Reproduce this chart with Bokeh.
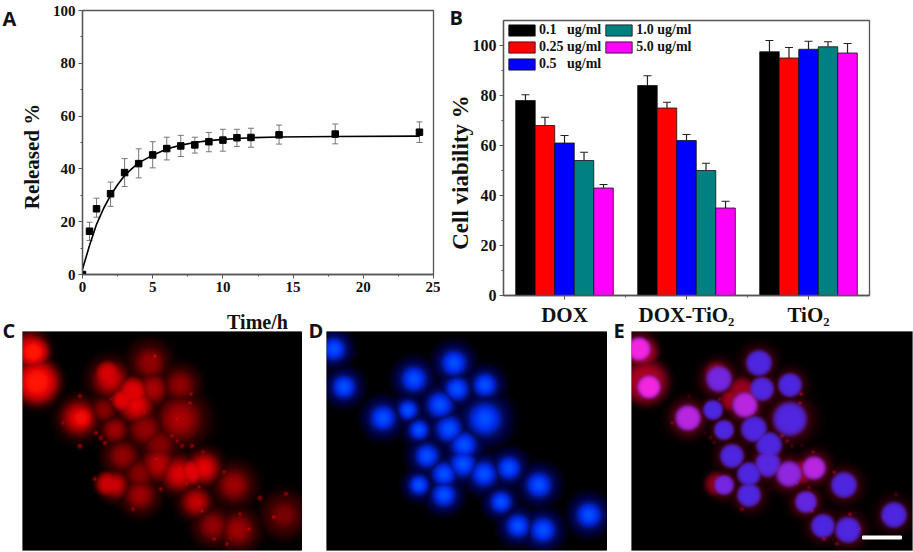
import numpy as np
from bokeh.core.properties import value
from bokeh.embed import file_html
from bokeh.layouts import column, row
from bokeh.models import ColumnDataSource, FixedTicker, Legend, LegendItem, Range1d, TeeHead, Whisker
from bokeh.plotting import figure
from bokeh.resources import INLINE

# panel A: release curve
time_h = [0, 0.5, 1, 2, 3, 4, 5, 6, 7, 8, 9, 10, 11, 12, 14, 18, 24]
released = [0, 16.4, 24.9, 30.6, 38.6, 42, 45.3, 47.7, 48.7, 49.1, 50.3, 50.9, 51.8, 51.9, 52.9, 53.2, 53.9]
released_low = [0, 12.9, 21.7, 25.8, 33.3, 36.6, 40.4, 43.4, 44.7, 46, 46.5, 46.7, 48.5, 48.2, 49.4, 49.5, 50]
released_high = [0, 19.8, 28.9, 35, 43.9, 47.6, 50.3, 52, 52.7, 52, 53.8, 55, 55, 55.4, 56.6, 57, 57.8]
fit_t = [0, 0.25, 0.5, 1, 1.5, 2, 2.5, 3, 3.5, 4, 5, 6, 7, 8, 9, 10, 12, 14, 18, 24]
fit_y = [2, 6.5, 11, 19, 25, 30, 34, 37.5, 40, 42.3, 45.2, 47.5, 49, 50, 50.7, 51.2, 51.8, 52.1, 52.3, 52.4]

# panel B: cell viability
groups = ["DOX", "DOX-TiO₂", "TiO₂"]
doses = ["0.1\u00a0\u00a0\u00a0ug/ml", "0.25 ug/ml", "0.5\u00a0\u00a0\u00a0ug/ml", "1.0 ug/ml", "5.0 ug/ml"]
dose_colors = ["#000000", "#ff0000", "#0000ff", "#008080", "#ff00ff"]
viability = [[78, 84, 97.5], [68, 75, 95], [61, 62, 98.5], [54, 50, 99.5], [43, 35, 97]]
viability_top = [[80.3, 87.9, 102], [71.3, 77.3, 99.2], [64, 64.4, 101.7], [57.3, 52.9, 101.5], [44.4, 37.7, 100.8]]

# panels C-E: cells seen in the micrographs, in panel pixels
cell_x = [7, 17, 87, 127, 130, 158, 113, 81, 56, 92, 122, 158, 137, 100, 136, 117, 157, 182, 92, 117, 174, 212, 191, 216, 262]
cell_y = [17, 55, 47, 31, 57, 53, 73, 78, 86, 98, 97, 87, 113, 124, 132, 142, 142, 136, 153, 163, 170, 153, 194, 198, 183]
cell_r = [12, 12, 13, 13, 12, 12, 13, 10, 13, 10, 13, 17, 13, 12, 13, 12, 13, 12, 10, 12, 11, 13, 12, 13, 13]
cell_red = [1.0, 1.0, 0.85, 0.6, 0.7, 0.6, 0.95, 0.55, 0.95, 0.65, 0.6, 0.7, 0.55, 0.6, 0.75, 0.55, 0.9, 0.95, 0.85, 0.65, 0.8, 0.65, 0.6, 0.65, 0.5]
glow_x = [10, 14, 110, 85, 58, 170, 100, 85]
glow_y = [20, 50, 60, 42, 86, 140, 68, 152]
glow_r = [16, 22, 15, 13, 13, 13, 12, 12]
glow_a = [1.0, 1.0, 0.88, 0.85, 0.95, 0.88, 0.88, 0.8]
spot_x = [88, 85, 132, 169, 168, 121, 57, 40, 57, 72, 83, 138, 177, 181, 180, 202, 218, 252, 264, 238, 110, 133, 158, 155, 170, 78, 73, 82, 178, 165, 227, 192, 205, 150, 155, 160]
spot_y = [67, 36, 24, 62, 71, 81, 64, 91, 114, 147, 149, 157, 155, 120, 179, 140, 182, 185, 162, 166, 177, 127, 136, 87, 114, 106, 101, 111, 171, 151, 197, 207, 212, 104, 109, 114]

# panel letters, in page pixels
letters = ["A", "B", "C", "D", "E"]
letter_x = [2, 449, 2, 308, 613]
letter_y = [18, 17, 330, 330, 330]
# axis titles sit off centre, in page pixels
y_titles = ["Released %", "Cell viability %"]
y_title_x = [31, 460]
y_title_y = [156, 172]
y_title_size = ["21px", "23px"]

W, H = 281, 219
SERIF = "Liberation Serif"
AXIS = "#555555"


def to_image(r, g, b):
    img = np.zeros((H, W), dtype=np.uint32)
    view = img.view(np.uint8).reshape((H, W, 4))
    view[..., 0] = np.clip(r, 0, 1) * 255
    view[..., 1] = np.clip(g, 0, 1) * 255
    view[..., 2] = np.clip(b, 0, 1) * 255
    view[..., 3] = 255
    return img[::-1]


def fields():
    yy, xx = np.mgrid[0:H, 0:W]
    cyto = np.zeros((H, W))
    haze = np.zeros((H, W))
    halo = np.zeros((H, W))
    core = np.zeros((H, W))
    center = np.zeros((H, W))
    nucleus = np.zeros((H, W))
    pink = np.zeros((H, W))
    for x, y, r, a in zip(cell_x, cell_y, cell_r, cell_red):
        d = np.hypot(xx - x, yy - y)
        cyto = np.maximum(cyto, a * 0.95 * np.exp(-(d / (1.3 * r)) ** 2.5))
        haze = np.maximum(haze, np.exp(-(d / (1.8 * r)) ** 4))
        halo = np.maximum(halo, np.exp(-(d / (1.6 * r)) ** 4))
        core = np.maximum(core, np.exp(-(d / (1.08 * r)) ** 4))
        center = np.maximum(center, np.exp(-(d / (0.6 * r)) ** 2))
        disk = np.exp(-(d / (1.0 * r)) ** 8)
        nucleus = np.maximum(nucleus, disk)
        pink = np.maximum(pink, disk * ((a - 0.5) * 2) ** 4)
    glow = np.zeros((H, W))
    for x, y, r, a in zip(glow_x, glow_y, glow_r, glow_a):
        glow = np.maximum(glow, a * np.exp(-(np.hypot(xx - x, yy - y) / r) ** 4))
    spots = np.zeros((H, W))
    for x, y in zip(spot_x, spot_y):
        spots = np.maximum(spots, np.exp(-(np.hypot(xx - x, yy - y) / 2.4) ** 2))
    return cyto, haze, halo, core, center, nucleus, pink, glow, spots


def panel(width, left, right):
    p = figure(width=width, height=221, x_range=Range1d(0, W), y_range=Range1d(0, H), tools="",
               toolbar_location=None, output_backend="svg", min_border_left=left, min_border_right=right,
               min_border_top=0, min_border_bottom=2, outline_line_color="#888888", x_axis_type=None, y_axis_type=None,
               frame_align=False)
    p.grid.visible = False
    return p


def style_axes(p, size):
    for ax in [p.xaxis[0], p.yaxis[0]]:
        ax.axis_line_color = AXIS
        ax.axis_line_width = 1.3
        ax.major_tick_line_color = AXIS
        ax.minor_tick_line_color = AXIS
        ax.major_tick_in = 0
        ax.major_tick_out = 4
        ax.minor_tick_in = 0
        ax.minor_tick_out = 2
        ax.major_label_text_font = SERIF
        ax.major_label_text_font_style = "bold"
        ax.major_label_text_font_size = size
        ax.major_label_text_color = "#111111"
        ax.major_label_standoff = 3
    p.grid.visible = False
    p.outline_line_color = AXIS
    p.outline_line_width = 1.3


# panel A
a = figure(width=440, height=331, x_range=Range1d(0, 25), y_range=Range1d(0, 100), tools="",
           toolbar_location=None, output_backend="svg", min_border_left=82, min_border_right=7,
           min_border_top=10, min_border_bottom=57, frame_align=False)
style_axes(a, "15px")
a.xaxis.ticker = FixedTicker(ticks=[0, 5, 10, 15, 20, 25], minor_ticks=[2.5, 7.5, 12.5, 17.5, 22.5])
a.yaxis.ticker = FixedTicker(ticks=[0, 20, 40, 60, 80, 100], minor_ticks=[10, 30, 50, 70, 90])
src_a = ColumnDataSource(dict(t=time_h, y=released, low=released_low, high=released_high))
a.add_layout(Whisker(source=src_a, base="t", lower="low", upper="high", line_color="#777777", line_width=1,
                     lower_head=TeeHead(size=6, line_color="#777777"), upper_head=TeeHead(size=6, line_color="#777777")))
a.line(fit_t, fit_y, line_color="#000000", line_width=1.6)
a.scatter("t", "y", source=src_a, marker="square", size=6.5, color="#000000")

# panel B
b = figure(width=473, height=331, x_range=Range1d(0.5, 3.5), y_range=Range1d(0, 110), tools="",
           toolbar_location=None, output_backend="svg", min_border_left=63, min_border_right=44,
           min_border_top=20, min_border_bottom=36, frame_align=False)
style_axes(b, "16px")
b.xaxis.ticker = FixedTicker(ticks=[1, 2, 3], minor_ticks=[1.5, 2.5])
b.xaxis.major_label_overrides = {1: groups[0], 2: groups[1], 3: groups[2]}
b.xaxis.major_label_text_font_size = "21px"
b.xaxis.major_label_standoff = 3
b.yaxis.ticker = FixedTicker(ticks=[0, 20, 40, 60, 80, 100], minor_ticks=[10, 30, 50, 70, 90])
items = []
for i, name in enumerate(doses):
    xs = [g + 1 + (i - 2) * 0.16 for g in range(3)]
    bars = b.vbar(x=xs, top=viability[i], width=0.16, bottom=0, fill_color=dose_colors[i], line_color="#111111", line_width=0.8)
    src_b = ColumnDataSource(dict(x=xs, low=viability[i], high=viability_top[i]))
    b.add_layout(Whisker(source=src_b, base="x", lower="low", upper="high", line_color="#222222", line_width=1.2,
                         lower_head=None, upper_head=TeeHead(size=8, line_color="#222222", line_width=1.2)))
    items.append(LegendItem(label=name, renderers=[bars]))
legend = Legend(items=items, location="top_left", nrows=3, background_fill_alpha=0, border_line_alpha=0, margin=0, padding=2,
                glyph_width=33, glyph_height=14, label_text_font=SERIF, label_text_font_style="bold",
                label_text_font_size="14px", label_text_color="#111111", spacing=1, label_standoff=1, label_height=12)
b.add_layout(legend)

# panels C, D, E
cyto, haze, halo, core, center, nucleus, pink, glow, spots = fields()
red = np.maximum(np.maximum(np.maximum(cyto, haze * 0.28), glow), spots * 0.95 * np.maximum(halo, 0.7))
c = panel(302, 22, 0)
c.image_rgba(image=[to_image(red, np.clip(red - 0.88, 0, 1) * 0.7, red * 0.02)], x=0, y=0, dw=W, dh=H)

d = panel(305, 24, 0)
blue = np.maximum(halo * 0.45, core)
d.image_rgba(image=[to_image(0 * blue, core * 0.12 + center * 0.2, blue)], x=0, y=0, dw=W, dh=H)

e = panel(306, 24, 1)
ring = np.maximum(np.maximum(cyto * 0.62, glow * 0.7), spots * 0.85 * halo) * (1 - nucleus)
e.image_rgba(image=[to_image(ring + nucleus * (0.3 + 0.65 * pink), nucleus * 0.15, nucleus * 0.88 + ring * 0.2)], x=0, y=0, dw=W, dh=H)
e.quad(left=[231], right=[270], bottom=[11.5], top=[14.5], color="#ffffff")

# transparent sheet over the whole page for the letters and the axis titles
sheet = figure(width=913, height=552, x_range=Range1d(0, 913), y_range=Range1d(552, 0), tools="",
               toolbar_location=None, output_backend="svg", x_axis_type=None, y_axis_type=None,
               min_border=0, outline_line_color=None, background_fill_color=None, border_fill_color=None,
               frame_align=False, margin=(-552, 0, 0, 0))
sheet.grid.visible = False
sheet.text(x=letter_x, y=letter_y, text=letters, text_font=value("Open Sans"), text_font_style="bold",
           text_font_size="20px", text_color="#111111", text_baseline="alphabetic", text_align="left")
sheet.text(x=y_title_x, y=y_title_y, text=y_titles, angle=np.pi / 2, text_font=value(SERIF), text_font_style="bold",
           text_font_size=y_title_size, text_color="#111111", text_align="center", text_baseline="middle")
sheet.text(x=[257], y=[321], text=["Time/h"], text_font=value(SERIF), text_font_style="bold",
           text_font_size="20px", text_color="#111111", text_align="center", text_baseline="middle")

page = column(row(a, b, spacing=0), row(c, d, e, spacing=0), sheet, spacing=0)
open("out.html", "w").write(file_html(page, INLINE))
